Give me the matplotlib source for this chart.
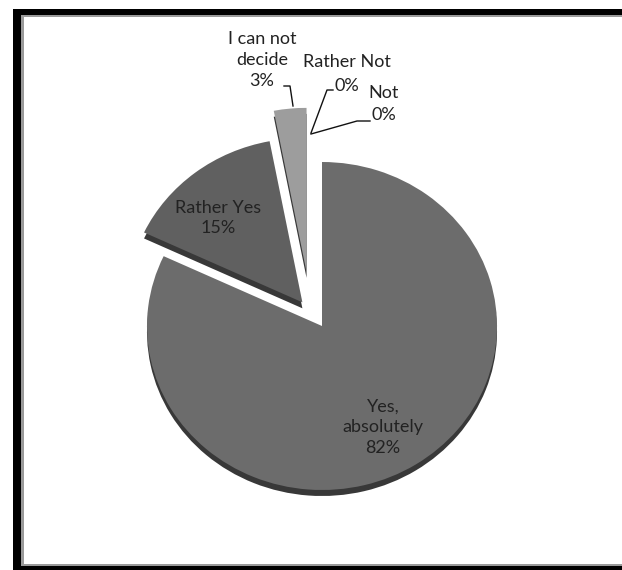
import matplotlib
matplotlib.use("Agg")
import matplotlib.pyplot as plt
from matplotlib.patches import Rectangle
from matplotlib.transforms import Affine2D

W, H = 622, 570

labels = ["Yes,\nabsolutely", "Rather Yes", "I can not\ndecide", "Rather Not", "Not"]
shares = [82, 15, 3, 0, 0]
colors = ["#6c6c6c", "#606060", "#9d9d9d", "#8a8a8a", "#8a8a8a"]
explode_px = [0, 32, 58, 0, 0]   # pie() explode is in data units, here pixels
nudge_x = [0, 0, -10, 0, 0]      # extra sideways shift (fake 3D perspective)

CX, CY = 322, 326          # pie centre in pixels (from top)
RX, RY = 175, 164
DEPTH = 6

plt.rcParams["font.family"] = ["Lato", "DejaVu Sans"]
fig = plt.figure(figsize=(W / 100, H / 100), dpi=100)
ax = fig.add_axes([0, 0, 1, 1])


def Y(p):
    return H - p


def squash(cy, dx=0):
    return (Affine2D().translate(-CX, -cy).scale(1, RY / RX).translate(CX + dx, cy)
            + ax.transData)


# dark copy underneath = 3D side face
shadow, _ = ax.pie(shares, radius=RX, center=(CX, Y(CY) - DEPTH), startangle=90,
                   counterclock=False, explode=explode_px, colors=["#383838"] * 5,
                   frame=True, wedgeprops=dict(linewidth=0))
for w, dx in zip(shadow, nudge_x):
    w.set_transform(squash(Y(CY) - DEPTH, dx))

wedges, _ = ax.pie(shares, radius=RX, center=(CX, Y(CY)), startangle=90,
                   counterclock=False, explode=explode_px, colors=colors,
                   frame=True, wedgeprops=dict(linewidth=0))
for w, dx in zip(wedges, nudge_x):
    w.set_transform(squash(Y(CY), dx))

ax.set_xlim(0, W)
ax.set_ylim(0, H)
ax.set_aspect("auto")
ax.axis("off")

fs = 13
tc = "#222222"
ls = 1.35
tk = dict(ha="center", va="center", fontsize=fs, color=tc, linespacing=ls)
ax.text(383, Y(427), f"{labels[0]}\n{shares[0]}%", **tk)
ax.text(218, Y(218), f"{labels[1]}\n{shares[1]}%", **tk)
ax.text(262, Y(60), f"{labels[2]}\n{shares[2]}%", **tk)
ax.text(347, Y(62), labels[3], **tk)
ax.text(347, Y(86), f"{shares[3]}%", **tk)
ax.text(384, Y(93), labels[4], **tk)
ax.text(384, Y(115), f"{shares[4]}%", **tk)

# leader lines
lk = dict(color="#111111", lw=1.0)
ax.plot([284, 290, 293], [Y(86), Y(86), Y(106)], **lk)
ax.plot([333, 327, 311], [Y(90), Y(90), Y(133)], **lk)
ax.plot([370, 357, 311], [Y(121), Y(121), Y(134)], **lk)

# frame: thick black on left/top/bottom, thin grey inside
ax.add_patch(Rectangle((13, Y(570)), 8, 561, color="black", lw=0))
ax.add_patch(Rectangle((13, Y(15)), W - 13, 6, color="black", lw=0))
ax.add_patch(Rectangle((13, Y(570)), W - 13, 4, color="black", lw=0))
ax.add_patch(Rectangle((21, Y(566)), 3, 551, color="#9a9a9a", lw=0))
ax.add_patch(Rectangle((21, Y(17)), W - 21, 2, color="#9a9a9a", lw=0))
ax.add_patch(Rectangle((21, Y(566)), W - 21, 2, color="#9a9a9a", lw=0))

fig.savefig("out.png", dpi=100)
